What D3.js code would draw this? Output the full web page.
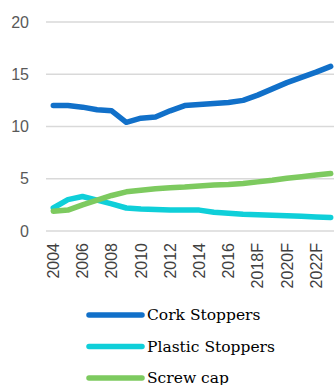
<!DOCTYPE html>
<html><head><meta charset="utf-8">
<script src="https://cdn.jsdelivr.net/npm/d3@7"></script>
<style>body{margin:0;background:#fff;}svg{display:block;}</style>
</head><body>
<script>
const years = ["2004","2005","2006","2007","2008","2009","2010","2011","2012","2013","2014","2015","2016","2017","2018F","2019F","2020F","2021F","2022F","2023F"];
const tickLabels = ["2004","2006","2008","2010","2012","2014","2016","2018F","2020F","2022F"];
const yTicks = [0,5,10,15,20];
const cork = [12.0,12.0,11.85,11.6,11.5,10.4,10.8,10.9,11.5,12.0,12.1,12.2,12.3,12.5,13.0,13.6,14.2,14.7,15.2,15.75];
const plastic = [2.2,3.0,3.3,2.95,2.6,2.2,2.1,2.05,2.0,2.0,2.0,1.8,1.7,1.6,1.55,1.5,1.45,1.4,1.35,1.3];
const screw = [1.9,2.0,2.5,2.95,3.4,3.75,3.9,4.05,4.15,4.2,4.3,4.4,4.45,4.55,4.7,4.85,5.05,5.2,5.35,5.5];
const seriesNames = ["Cork Stoppers","Plastic Stoppers","Screw cap"];
const seriesColors = ["#1170c9","#0fcfd9","#7dca5f"];
const seriesData = [cork, plastic, screw];

const W = 334, H = 385;
const svg = d3.select("body").append("svg").attr("width", W).attr("height", H);
const x = d3.scaleBand().domain(years).range([46, 338]);
const y = d3.scaleLinear().domain([0,20]).range([231, 22]);

// gridlines
svg.append("g").selectAll("line").data(yTicks).join("line")
  .attr("x1", 46).attr("x2", 338)
  .attr("y1", d => y(d)).attr("y2", d => y(d))
  .attr("stroke", "#d9d9d9").attr("stroke-width", 1.5);

// y axis labels
const yAxis = d3.axisLeft(y).tickValues(yTicks).tickSize(0).tickPadding(0);
const gy = svg.append("g").attr("transform", "translate(29,0)").call(yAxis);
gy.select(".domain").remove();
gy.selectAll("text").attr("font-family", "Liberation Sans, Arial, sans-serif")
  .attr("font-size", 16).attr("fill", "#595959");

// x axis labels
const xAxis = d3.axisBottom(x).tickValues(tickLabels).tickSize(0).tickPadding(0);
const gx = svg.append("g").attr("transform", "translate(0,243)").call(xAxis);
gx.select(".domain").remove();
gx.selectAll("text")
  .attr("font-family", "Liberation Sans, Arial, sans-serif")
  .attr("font-size", 16).attr("fill", "#404040")
  .attr("transform", "rotate(-90)")
  .attr("text-anchor", "end")
  .attr("x", 0).attr("y", 0).attr("dy", "0.35em");

// lines
const line = d3.line().x((d,i) => x(years[i]) + x.bandwidth()/2).y(d => y(d));
seriesData.forEach((s, k) => {
  svg.append("path").datum(s).attr("d", line)
    .attr("fill", "none").attr("stroke", seriesColors[k])
    .attr("stroke-width", 5.5).attr("stroke-linecap", "round").attr("stroke-linejoin", "round");
});

// legend
const leg = svg.append("g");
seriesNames.forEach((n, k) => {
  const ly = 315 + k * 31.5;
  leg.append("line").attr("x1", 89).attr("x2", 142).attr("y1", ly).attr("y2", ly)
    .attr("stroke", seriesColors[k]).attr("stroke-width", 5.5).attr("stroke-linecap", "round");
  leg.append("text").attr("x", 147).attr("y", ly).attr("dy", "0.35em")
    .attr("font-family", "DejaVu Serif, Cambria, serif").attr("font-size", 15.5)
    .attr("fill", "#000").text(n);
});
</script>
</body></html>
